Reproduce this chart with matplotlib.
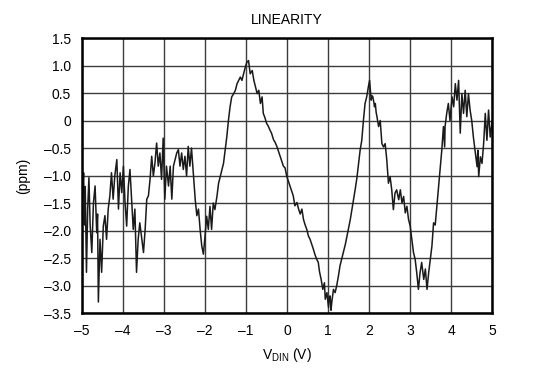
import matplotlib
matplotlib.use("Agg")
import matplotlib.pyplot as plt

plt.rcParams['font.family'] = ['Liberation Sans', 'DejaVu Sans']

# linearity trace, segment by segment
vdin_a = [-5.00, -4.98, -4.96, -4.94, -4.92, -4.89, -4.86, -4.83, -4.80, -4.76,
          -4.72, -4.68, -4.64, -4.62, -4.60, -4.56, -4.52, -4.48, -4.44, -4.40,
          -4.36, -4.32, -4.28, -4.24, -4.20, -4.15, -4.11, -4.07, -4.03, -3.99,
          -3.95, -3.91, -3.87, -3.83, -3.79, -3.75, -3.71, -3.67, -3.63]
ppm_a = [-0.80, -1.30, -0.95, -1.90, -1.20, -2.76, -1.60, -1.04, -1.90, -2.40,
         -1.50, -1.19, -2.04, -1.70, -3.30, -2.16, -2.76, -1.92, -1.73, -2.16,
         -1.61, -1.37, -0.95, -1.43, -1.01, -0.71, -1.61, -0.95, -1.31, -0.83,
         -1.49, -1.92, -1.20, -0.89, -1.43, -1.98, -1.61, -2.76, -2.16]

vdin_b = [-3.59, -3.55, -3.50, -3.46, -3.42, -3.38, -3.34, -3.30, -3.26, -3.22,
          -3.18, -3.14, -3.10, -3.06, -3.02, -2.98, -2.94, -2.89, -2.85, -2.81,
          -2.77, -2.73, -2.69, -2.65, -2.61, -2.57, -2.53, -2.49, -2.45, -2.41,
          -2.37, -2.33, -2.28, -2.24, -2.20, -2.16, -2.12, -2.08]
ppm_b = [-1.86, -2.10, -2.40, -1.98, -1.43, -1.37, -1.07, -0.65, -1.01, -0.77,
         -0.41, -0.83, -0.59, -1.07, -0.32, -1.43, -0.83, -1.19, -0.83, -1.43,
         -0.83, -0.71, -0.59, -0.53, -0.83, -0.59, -0.89, -0.65, -1.01, -0.47,
         -0.83, -0.50, -1.01, -1.43, -1.73, -1.61, -1.98, -2.28]

vdin_c = [-2.04, -2.00, -1.96, -1.92, -1.88, -1.84, -1.80, -1.76, -1.71, -1.67,
          -1.63, -1.59, -1.55, -1.51, -1.47, -1.43, -1.39, -1.35, -1.30, -1.26,
          -1.22, -1.18, -1.14, -1.10, -1.06, -1.02, -0.98, -0.94, -0.90, -0.85,
          -0.81, -0.77, -0.73, -0.69, -0.65, -0.61]
ppm_c = [-2.43, -2.10, -1.74, -1.98, -1.56, -1.98, -1.50, -1.62, -1.38, -1.14,
         -1.02, -0.90, -0.78, -0.54, -0.30, 0.00, 0.25, 0.43, 0.49, 0.55,
         0.67, 0.73, 0.79, 0.73, 0.85, 0.97, 1.06, 1.09, 0.85, 0.91,
         0.73, 0.61, 0.49, 0.55, 0.31, 0.43]

vdin_d = [-0.58, -0.54, -0.50, -0.46, -0.42, -0.38, -0.33, -0.29, -0.25, -0.21,
          -0.17, -0.13, -0.09, -0.05, -0.01, 0.03, 0.07, 0.11, 0.15, 0.19,
          0.24, 0.28, 0.32, 0.36, 0.40, 0.44, 0.48, 0.52, 0.56, 0.60,
          0.64, 0.68, 0.72, 0.76, 0.79]
ppm_d = [0.13, 0.05, -0.05, -0.10, -0.17, -0.23, -0.35, -0.40, -0.47, -0.56,
         -0.65, -0.74, -0.83, -0.86, -1.01, -1.10, -1.19, -1.28, -1.37, -1.55,
         -1.49, -1.61, -1.70, -1.61, -1.80, -1.90, -1.98, -2.10, -2.16, -2.25,
         -2.34, -2.44, -2.52, -2.58, -2.75]

vdin_e = [0.83, 0.87, 0.91, 0.93, 0.97, 1.01, 1.03, 1.05, 1.07, 1.09,
          1.13, 1.17, 1.21, 1.25, 1.29, 1.33, 1.37, 1.42, 1.46, 1.50,
          1.54, 1.58, 1.62, 1.66, 1.70, 1.74, 1.78, 1.82, 1.86, 1.90,
          1.94, 1.98, 2.01, 2.03, 2.05, 2.07, 2.09, 2.11, 2.13, 2.15,
          2.17, 2.19, 2.23, 2.27, 2.31]
ppm_e = [-2.89, -3.07, -2.95, -3.25, -3.13, -3.40, -3.20, -3.19, -3.45, -3.30,
         -3.07, -3.13, -3.00, -2.83, -2.64, -2.52, -2.40, -2.25, -2.10, -1.95,
         -1.80, -1.62, -1.45, -1.25, -1.05, -0.80, -0.54, -0.36, 0.00, 0.31,
         0.43, 0.61, 0.73, 0.55, 0.37, 0.45, 0.43, 0.35, 0.25, 0.31,
         0.15, 0.07, -0.11, 0.00, -0.42]

vdin_f = [2.35, 2.39, 2.43, 2.47, 2.51, 2.55, 2.59, 2.63, 2.67, 2.72,
          2.76, 2.80, 2.84, 2.88, 2.92, 2.96, 3.00, 3.04, 3.08, 3.12,
          3.16, 3.20, 3.24, 3.28, 3.33, 3.37, 3.41, 3.45, 3.49, 3.53,
          3.57, 3.61, 3.65, 3.69]
ppm_f = [-0.48, -0.42, -0.72, -1.14, -1.02, -1.26, -1.62, -1.32, -1.26, -1.44,
         -1.26, -1.50, -1.38, -1.68, -1.56, -1.80, -1.92, -2.16, -2.40, -2.52,
         -2.77, -3.07, -2.77, -2.58, -2.89, -2.70, -3.07, -2.77, -2.52, -2.28,
         -1.86, -1.90, -1.56, -1.20]

vdin_g = [3.73, 3.77, 3.81, 3.84, 3.85, 3.89, 3.93, 3.97, 4.02, 4.06,
          4.10, 4.14, 4.18, 4.22, 4.26, 4.30, 4.34, 4.38, 4.42, 4.46,
          4.50, 4.54, 4.59, 4.63, 4.65, 4.67, 4.71, 4.75, 4.79, 4.83,
          4.87, 4.91, 4.95, 5.00]
ppm_g = [-0.90, -0.54, -0.11, -0.48, -0.11, 0.13, 0.31, 0.00, 0.43, 0.25,
         0.67, 0.37, 0.73, -0.23, 0.49, 0.13, 0.55, 0.07, 0.49, 0.19,
         0.00, -0.30, -0.60, -0.84, -0.54, -1.02, -0.66, -0.78, -0.42, 0.13,
         -0.36, 0.19, -0.30, 0.00]

vdin = vdin_a + vdin_b + vdin_c + vdin_d + vdin_e + vdin_f + vdin_g
ppm = ppm_a + ppm_b + ppm_c + ppm_d + ppm_e + ppm_f + ppm_g

x_ticks = [-5, -4, -3, -2, -1, 0, 1, 2, 3, 4, 5]
x_labels = ['\u20135', '\u20134', '\u20133', '\u20132', '\u20131', '0', '1', '2', '3', '4', '5']
y_ticks = [1.5, 1.0, 0.5, 0, -0.5, -1.0, -1.5, -2.0, -2.5, -3.0, -3.5]
y_labels = ['1.5', '1.0', '0.5', '0', '\u20130.5', '\u20131.0', '\u20131.5',
            '\u20132.0', '\u20132.5', '\u20133.0', '\u20133.5']

fig = plt.figure(figsize=(5.5, 3.92), dpi=100)
ax = fig.add_axes([0.149, 0.2015, 0.746, 0.7015])

ax.plot(vdin, ppm, color='#1a1a1a', lw=1.1)

ax.set_xlim(-5, 5)
ax.set_ylim(-3.5, 1.5)
ax.set_xticks(x_ticks)
ax.set_xticklabels(x_labels)
ax.set_yticks(y_ticks)
ax.set_yticklabels(y_labels)
ax.tick_params(length=0, labelsize=10, pad=8)
ax.grid(True, color='#3c3c3c', lw=1.0)
ax.set_axisbelow(True)
for s in ax.spines.values():
    s.set_linewidth(1.8)
    s.set_color('black')

ax.set_title('LINEARITY', fontsize=10, pad=10)
ax.set_xlabel('V$_{\\mathregular{DIN}}$ (V)', fontsize=10, labelpad=6)
ax.set_ylabel('(ppm)', fontsize=10, labelpad=10)

fig.savefig('out.png', dpi=100)
